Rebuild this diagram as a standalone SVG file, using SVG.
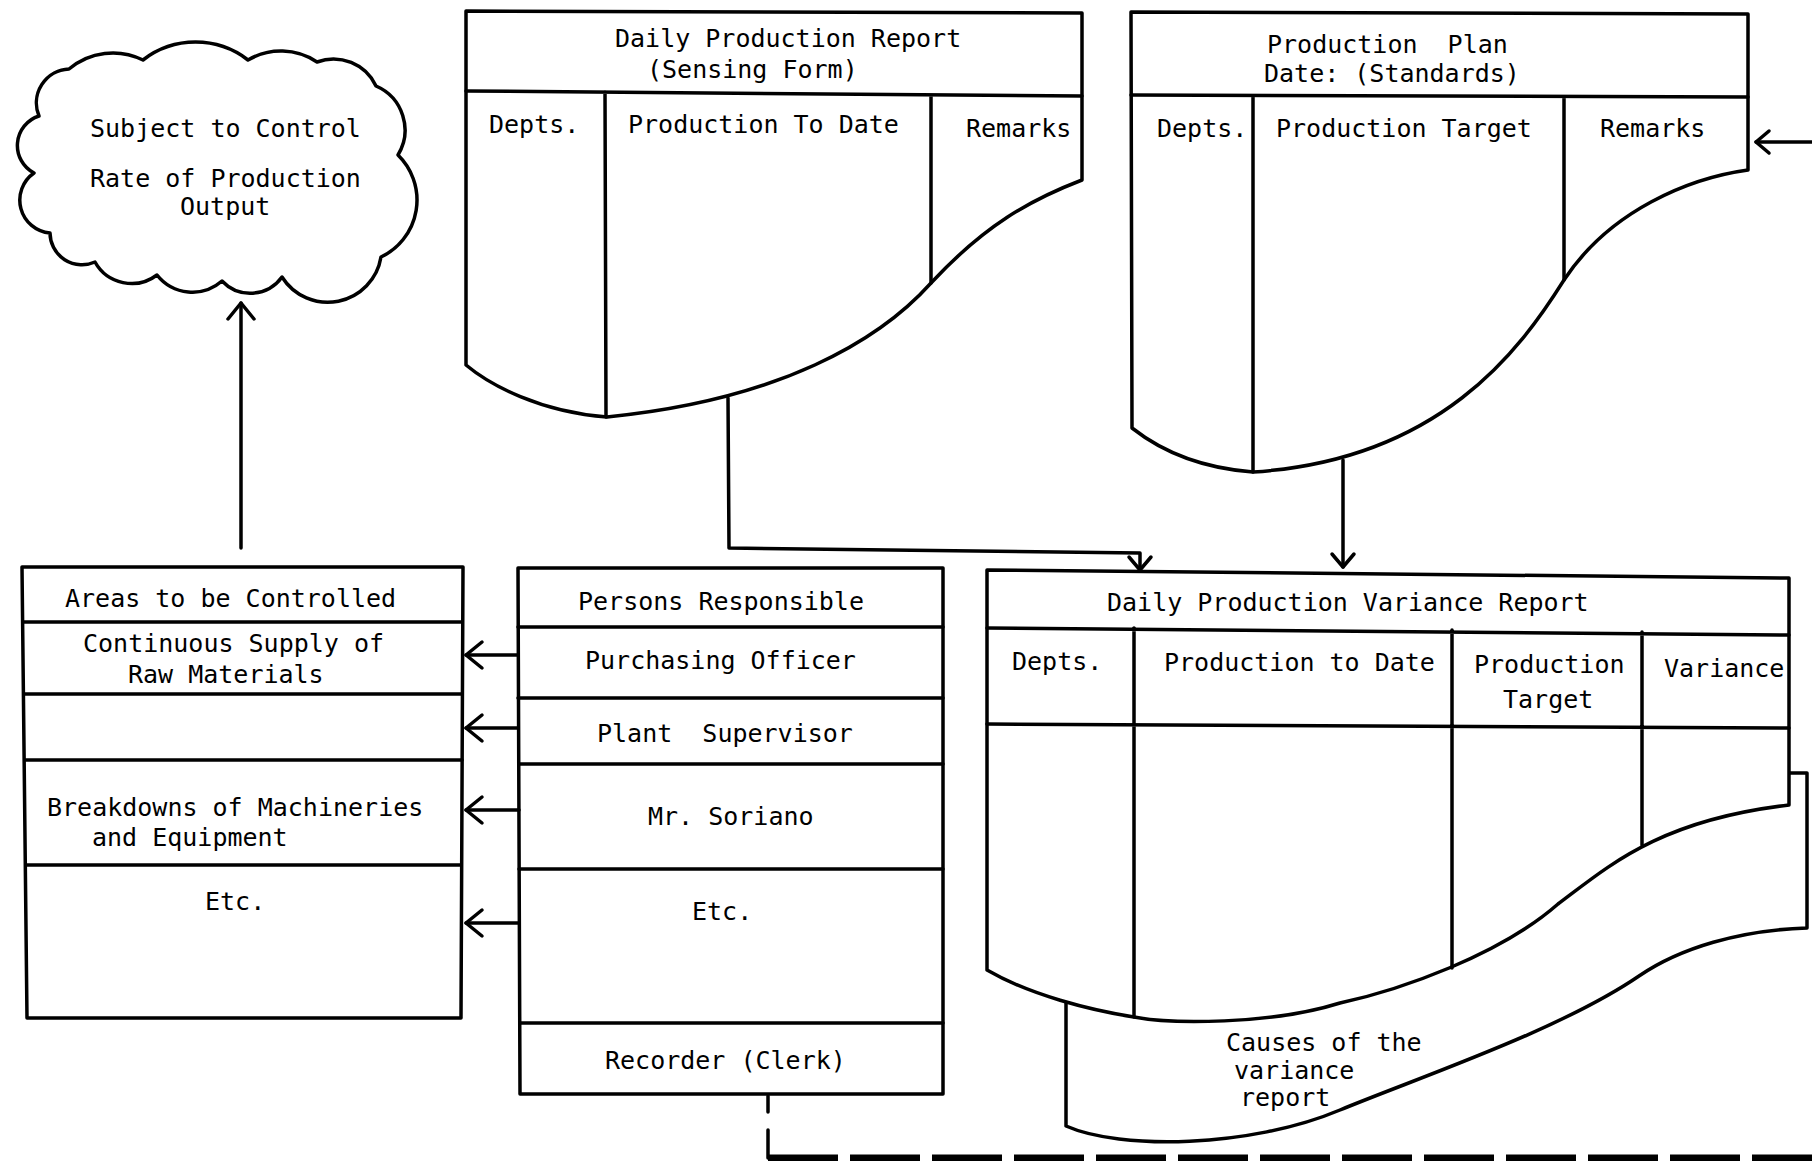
<svg xmlns="http://www.w3.org/2000/svg" width="1812" height="1161" viewBox="0 0 1812 1161">
<style>
.box{fill:#fff;stroke:#000;stroke-width:3.5;stroke-linejoin:round}
.ln{fill:none;stroke:#000;stroke-width:3.5;stroke-linejoin:round;stroke-linecap:round}
text{font-family:"DejaVu Sans Mono","Liberation Mono",monospace;font-size:25px;fill:#000}
</style>
<defs>
<marker id="vb" markerUnits="userSpaceOnUse" viewBox="-20 -15 24 30" refX="0" refY="0" markerWidth="24" markerHeight="30" orient="auto" overflow="visible">
<path d="M-16,-13 L0,0 L-16,13" fill="none" stroke="#000" stroke-width="3.5" stroke-linecap="round" stroke-linejoin="round"/>
</marker>
<marker id="vs" markerUnits="userSpaceOnUse" viewBox="-20 -15 24 30" refX="0" refY="0" markerWidth="24" markerHeight="30" orient="auto" overflow="visible">
<path d="M-13,-11 L0,0 L-13,11" fill="none" stroke="#000" stroke-width="3.5" stroke-linecap="round" stroke-linejoin="round"/>
</marker>
</defs>
<rect width="1812" height="1161" fill="#fff"/>

<g id="cloud">
<path class="box" d="M69,69 A68,68 0 0 1 143,60 A86,86 0 0 1 248,60 A65,65 0 0 1 317,62 A47,47 0 0 1 376,86 A48,48 0 0 1 398,155 A63,63 0 0 1 381,257 A54,54 0 0 1 282,277 A39,39 0 0 1 222,281 A45,45 0 0 1 157,275 A42,42 0 0 1 95,262 A32,32 0 0 1 50,233 A33,33 0 0 1 34,173 A31,31 0 0 1 39,116 A34,34 0 0 1 69,69 Z"/>
<text x="90" y="137">Subject to Control</text>
<text x="90" y="187">Rate of Production</text>
<text x="180" y="215">Output</text>
</g>

<g id="daily-production-report">
<path class="box" d="M466,365 L466,11 L1082,13 L1082,180 C1030,200 985,225 931,283 C880,340 780,400 607,417 C540,412 490,385 466,365 Z"/>
<path class="ln" d="M466,91 L1082,96 M605,92 L606,417 M931,95 L931,283"/>
<text x="615" y="47">Daily Production Report</text>
<text x="647" y="78">(Sensing Form)</text>
<text x="489" y="133">Depts.</text>
<text x="628" y="133">Production To Date</text>
<text x="966" y="137">Remarks</text>
</g>

<g id="production-plan">
<path class="box" d="M1132,428 L1131,12 L1748,14 L1748,170 C1690,178 1610,210 1564,280 C1520,350 1440,460 1253,472 C1200,468 1160,450 1132,428 Z"/>
<path class="ln" d="M1131,95 L1748,97 M1253,96 L1253,472 M1564,97 L1564,280"/>
<text x="1267" y="53" xml:space="preserve">Production  Plan</text>
<text x="1264" y="82">Date: (Standards)</text>
<text x="1157" y="137">Depts.</text>
<text x="1276" y="137">Production Target</text>
<text x="1600" y="137">Remarks</text>
</g>

<g id="areas-to-be-controlled">
<path class="box" d="M22,567 L463,567 L461,1018 L27,1018 Z"/>
<path class="ln" d="M23,622 L462,622 M24,694 L462,694 M25,760 L462,760 M26,865 L461,865"/>
<text x="65" y="607">Areas to be Controlled</text>
<text x="83" y="652">Continuous Supply of</text>
<text x="128" y="683">Raw Materials</text>
<text x="47" y="816">Breakdowns of Machineries</text>
<text x="92" y="846">and Equipment</text>
<text x="205" y="910">Etc.</text>
</g>

<g id="persons-responsible">
<path class="box" d="M518,568 L943,568 L943,1094 L520,1094 Z"/>
<path class="ln" d="M518,627 L943,627 M518,698 L943,698 M519,764 L943,764 M519,869 L943,869 M520,1023 L943,1023"/>
<text x="578" y="610">Persons Responsible</text>
<text x="585" y="669">Purchasing Officer</text>
<text x="597" y="742" xml:space="preserve">Plant  Supervisor</text>
<text x="648" y="825">Mr. Soriano</text>
<text x="692" y="920">Etc.</text>
<text x="605" y="1069">Recorder (Clerk)</text>
</g>

<g id="variance-report">
<path d="M1066,1001 L1066,1126 C1120,1150 1250,1148 1340,1110 C1420,1077 1560,1030 1639,976 C1680,948 1740,930 1807,928 L1807,773 L1789,773 L1789,900 L1066,1001 Z" fill="#fff"/>
<path class="ln" d="M1066,1001 L1066,1126 C1120,1150 1250,1148 1340,1110 C1420,1077 1560,1030 1639,976 C1680,948 1740,930 1807,928 L1807,773 L1789,773"/>
<path class="box" d="M987,970 L987,570 L1789,578 L1789,805 C1660,820 1610,865 1558,904 C1500,955 1400,990 1340,1003 C1270,1025 1170,1024 1134,1017 C1090,1010 1030,995 987,970 Z"/>
<path class="ln" d="M987,628 L1789,635 M987,724 L1789,728 M1134,628 L1134,1017 M1452,630 L1452,968 M1642,632 L1642,845"/>
<text x="1107" y="611">Daily Production Variance Report</text>
<text x="1012" y="670">Depts.</text>
<text x="1164" y="671">Production to Date</text>
<text x="1474" y="673">Production</text>
<text x="1503" y="708">Target</text>
<text x="1664" y="677">Variance</text>
<text x="1226" y="1051">Causes of the</text>
<text x="1234" y="1079">variance</text>
<text x="1240" y="1106">report</text>
</g>

<g id="connectors">
<path class="ln" d="M241,548 L241,303" marker-end="url(#vb)"/>
<path class="ln" d="M518,655 L466,655" marker-end="url(#vb)"/>
<path class="ln" d="M518,728 L466,728" marker-end="url(#vb)"/>
<path class="ln" d="M519,810 L466,810" marker-end="url(#vb)"/>
<path class="ln" d="M519,923 L466,923" marker-end="url(#vb)"/>
<path class="ln" d="M728,398 L729,548 L1140,553 L1140,570" marker-end="url(#vs)"/>
<path class="ln" d="M1343,460 L1343,567" marker-end="url(#vs)"/>
<path class="ln" d="M1812,142 L1756,142" marker-end="url(#vs)"/>
<path class="ln" d="M768,1096 L768,1112 M768,1130 L768,1158"/>
<path d="M768,1158 L1812,1158" fill="none" stroke="#000" stroke-width="7" stroke-dasharray="70 12"/>
</g>
</svg>
